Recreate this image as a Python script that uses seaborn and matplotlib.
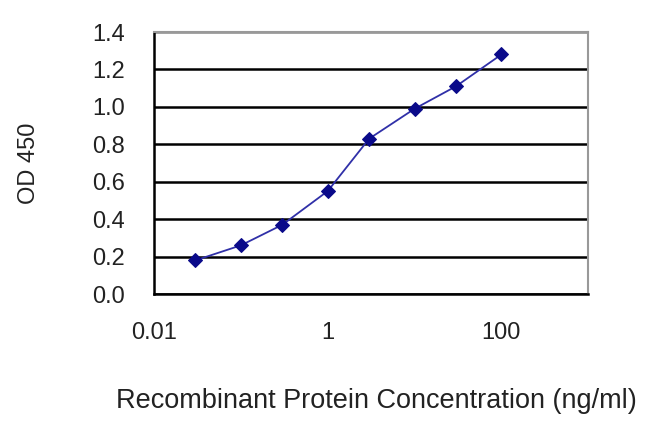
import matplotlib
matplotlib.use("Agg")
import matplotlib.pyplot as plt
import matplotlib.ticker as mticker
import seaborn as sns
import pandas as pd

# Data
conc = [0.03, 0.1, 0.3, 1, 3, 10, 30, 100]
od450 = [0.18, 0.26, 0.37, 0.55, 0.83, 0.99, 1.11, 1.28]
x_ticks = [0.01, 1, 100]
x_tick_labels = ["0.01", "1", "100"]
y_ticks = [0.0, 0.2, 0.4, 0.6, 0.8, 1.0, 1.2, 1.4]

sns.set_style("white")
plt.rcParams["font.family"] = ["Liberation Sans", "DejaVu Sans"]

data = pd.DataFrame({"conc": conc, "od": od450})

fig = plt.figure(figsize=(6.5, 4.33), dpi=100)
ax = fig.add_axes([0.237, 0.321, 0.668, 0.605])

sns.lineplot(data=data, x="conc", y="od", ax=ax, color="#3030a8", linewidth=1.3,
             marker="D", markersize=7, markerfacecolor="#0a0a8a",
             markeredgecolor="#0a0a8a", zorder=5)

ax.set_xscale("log")
ax.set_xlim(0.01, 1000)
ax.set_ylim(0, 1.4)
ax.xaxis.set_major_locator(mticker.FixedLocator(x_ticks))
ax.xaxis.set_minor_locator(mticker.NullLocator())
ax.set_xticks(x_ticks)
ax.set_xticklabels(x_tick_labels)
ax.set_yticks(y_ticks)
ax.yaxis.set_major_formatter(mticker.FormatStrFormatter("%.1f"))

ax.yaxis.grid(True, color="black", linewidth=1.8)
ax.get_ygridlines()[-1].set_color("#888888")
ax.xaxis.grid(False)
ax.set_axisbelow(True)

for side in ["left", "bottom"]:
    ax.spines[side].set_color("black")
    ax.spines[side].set_linewidth(1.8)
for side in ["top", "right"]:
    ax.spines[side].set_color("#999999")
    ax.spines[side].set_linewidth(1.5)

ax.tick_params(axis="x", direction="out", length=5, width=1.5, color="black",
               pad=15, labelsize=17, labelcolor="#222222")
ax.tick_params(axis="y", direction="out", length=5, width=1.5, color="black",
               pad=16, labelsize=17, labelcolor="#222222")

ax.set_xlabel("Recombinant Protein Concentration (ng/ml)", fontsize=19.5, color="#222222")
ax.set_ylabel("OD 450", fontsize=17, color="#222222")
ax.xaxis.set_label_coords(0.512, -0.36)
ax.yaxis.set_label_coords(-0.263, 0.5)

fig.savefig("out.png", dpi=100)
